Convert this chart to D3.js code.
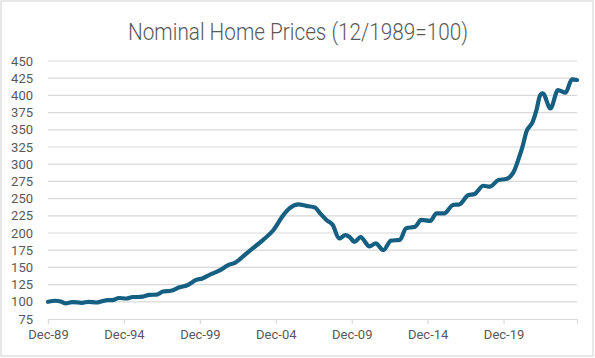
<!DOCTYPE html>
<html><head><meta charset="utf-8">
<script src="https://cdn.jsdelivr.net/npm/d3@7/dist/d3.min.js"></script>
<style>html,body{margin:0;padding:0;background:#fff;}svg{display:block;}</style>
</head><body>
<svg id="chart" width="595" height="358"></svg>
<script>
const title = "Nominal Home Prices (12/1989=100)";
const dates = ["1989-12","1990-06","1990-10","1991-02","1991-07","1991-12","1992-03","1992-08","1993-02","1993-07","1993-11","1994-03","1994-08","1995-02","1995-07","1995-11","1996-03","1996-08","1997-02","1997-07","1998-01","1998-08","1999-02","1999-09","2000-02","2000-08","2001-04","2001-10","2002-04","2002-12","2003-06","2004-02","2004-10","2005-06","2005-11","2006-06","2006-12","2007-07","2007-11","2008-04","2008-09","2009-02","2009-07","2009-11","2010-02","2010-07","2011-02","2011-07","2012-01","2012-07","2013-02","2013-07","2014-02","2014-07","2015-02","2015-07","2016-01","2016-08","2017-01","2017-08","2018-01","2018-08","2019-01","2019-08","2020-02","2020-08","2020-12","2021-03","2021-06","2021-11","2022-02","2022-05","2022-07","2023-01","2023-07","2024-01","2024-06","2024-10"];
const values = [100,101.5,100.5,97.8,99.5,99,98.5,100,99,101,102.5,102.5,105.5,104.8,107,107,107.5,110,110.5,115,116,121,124,131.7,134,139.5,146,153,157,169,178,190,204,226,236,241.5,239.5,237,228.6,219,211.6,192,197,193,187,194,180.6,185,175,189,190,207,209,219,217.5,228.6,228.6,240.7,241.5,255,256.7,268.7,267.3,277,278.5,289,308.6,325.5,347,361.8,379,400.6,403,381,407.8,404,423.4,422.4];
const yTicks = [75,100,125,150,175,200,225,250,275,300,325,350,375,400,425,450];
const xTickLabels = ["Dec-89","Dec-94","Dec-99","Dec-04","Dec-09","Dec-14","Dec-19"];

const parse = d3.timeParse("%Y-%m");
const data = dates.map((d,i)=>({date:parse(d), value:values[i]}));
const svg = d3.select("#chart");
const W = 595, H = 358;
const m = {left:48, right:18, top:61, bottom:39};
const x = d3.scaleTime().domain([parse("1989-12"), parse("2024-10")]).range([m.left, W - m.right]);
const y = d3.scaleLinear().domain([75,450]).range([H - m.bottom, m.top]);

svg.append("rect").attr("x",1).attr("y",1).attr("width",W-3).attr("height",H-3)
  .attr("fill","#fff").attr("stroke","#d9d9d9").attr("stroke-width",1.2);

svg.append("text").attr("x",298).attr("y",40).attr("text-anchor","middle")
  .attr("font-family","Roboto, 'Open Sans', sans-serif").attr("font-size",24).attr("font-weight",300)
  .attr("fill","#595959").attr("textLength",340).attr("lengthAdjust","spacingAndGlyphs")
  .text(title);

const grid = svg.append("g");
yTicks.forEach(t=>{
  if (t===75) return;
  grid.append("line").attr("x1",m.left).attr("x2",W-m.right).attr("y1",y(t)).attr("y2",y(t))
    .attr("stroke","#d9d9d9").attr("stroke-width",1.2);
});

const yAxis = d3.axisLeft(y).tickValues(yTicks).tickSize(0).tickPadding(15);
const gy = svg.append("g").attr("transform",`translate(${m.left},0)`).call(yAxis);
gy.select(".domain").remove();
gy.selectAll("text").attr("font-family","Roboto, sans-serif").attr("font-size",13).attr("fill","#595959");

const tickDates = xTickLabels.map((l,i)=>parse((1989+5*i)+"-12"));
const xAxis = d3.axisBottom(x).tickValues(tickDates).tickSize(5).tickPadding(6)
  .tickFormat((d,i)=>xTickLabels[i]);
const gx = svg.append("g").attr("transform",`translate(0,${y(75)})`).call(xAxis);
gx.select(".domain").attr("stroke","#d9d9d9").attr("stroke-width",1.2);
gx.selectAll(".tick line").attr("stroke","#d9d9d9").attr("stroke-width",1.2);
gx.selectAll("text").attr("font-family","Roboto, sans-serif").attr("font-size",13).attr("fill","#595959");

const line = d3.line().x(d=>x(d.date)).y(d=>y(d.value)).curve(d3.curveMonotoneX);
svg.append("path").datum(data).attr("d",line).attr("fill","none")
  .attr("stroke","#156082").attr("stroke-width",4.2).attr("stroke-linejoin","round").attr("stroke-linecap","round");
</script>
</body></html>
